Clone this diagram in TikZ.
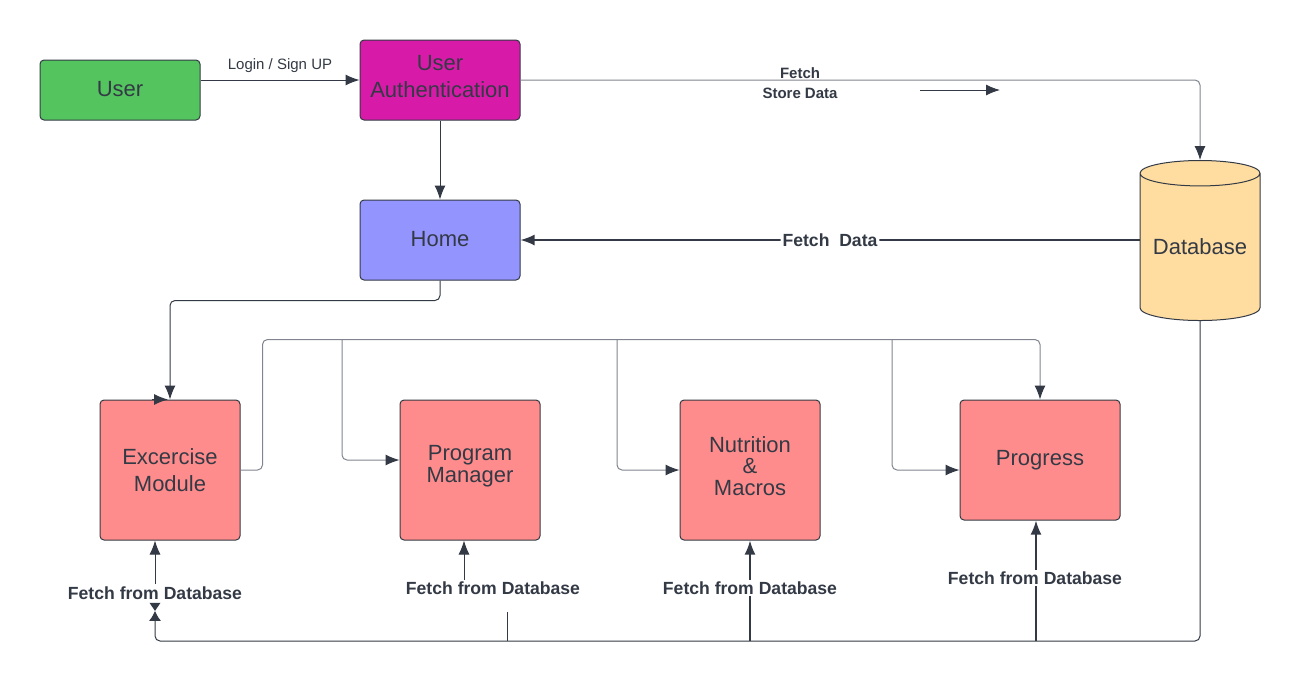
\documentclass[tikz,border=0pt]{standalone}
\usepackage{fontspec}
\setmainfont{Liberation Sans}
\usetikzlibrary{arrows.meta,positioning,calc,shapes.geometric}
\definecolor{userGreen}{HTML}{54C45E}
\definecolor{authPink}{HTML}{D81AA8}
\definecolor{homeBlue}{HTML}{9494FF}
\definecolor{dbYellow}{HTML}{FFDDA0}
\definecolor{modRed}{HTML}{FF8C8C}
\definecolor{inkGray}{HTML}{333A45}
\definecolor{wireGray}{HTML}{7F848E}

\begin{document}
\begin{tikzpicture}[x=0.5pt,y=-0.5pt,font=\fontsize{11}{13.5}\selectfont,
  box/.style={draw=inkGray,line width=0.5pt,rounded corners=2pt,text=inkGray,align=center,inner sep=0pt},
  wire/.style={inkGray,line width=0.5pt,rounded corners=2.5pt,-{Latex[length=7pt,width=5.5pt]}},
  gwire/.style={wire,wireGray,-{Latex[length=7pt,width=5.5pt,color=inkGray]}},
  lbl/.style={font=\fontsize{8.8}{10}\selectfont\bfseries,text=inkGray,fill=white,inner sep=1pt}]
\useasboundingbox (0,0) rectangle (1300,682);

% boxes
\node[box,fill=userGreen,minimum width=80pt,minimum height=30pt] (user) at (120,90) {\raisebox{1.5pt}{User}};
\node[box,fill=authPink,minimum width=80pt,minimum height=40pt] (auth) at (440,80) {User\\Authentication\\[-10pt]\mbox{}};
\node[box,fill=homeBlue,minimum width=80pt,minimum height=40pt] (home) at (440,240) {\raisebox{1.5pt}{Home}};
\node[cylinder,shape border rotate=90,aspect=0.27,draw=inkGray,line width=0.5pt,fill=dbYellow,
  text=inkGray,minimum width=60pt,minimum height=80pt,inner sep=0pt,anchor=north] (db) at (1200,160) {\raisebox{-2pt}{Database}};
\node[box,fill=modRed,minimum width=70pt,minimum height=70pt] (excer) at (170,470) {Excercise\\Module};
\node[box,fill=modRed,minimum width=70pt,minimum height=70pt,font=\fontsize{11}{9}\selectfont] (prog) at (470,470) {Program\\Manager\\[-3pt]\mbox{}};
\node[box,fill=modRed,minimum width=70pt,minimum height=70pt,font=\fontsize{11}{10.8}\selectfont] (nutri) at (750,470) {Nutrition\\\&\\Macros\\[-6.8pt]\mbox{}};
\node[box,fill=modRed,minimum width=80pt,minimum height=60pt] (progress) at (1040,460) {Progress};

% top flow
\draw[wire] (user.east |- auth.west) -- (auth.west)
  node[midway,above=0pt,font=\fontsize{7.5}{9}\selectfont,text=inkGray] {Login / Sign UP};
\draw[gwire] (auth.east) -| (db.north);
\node[font=\fontsize{7.5}{9}\selectfont\bfseries,text=inkGray] (fetchLbl) at (800,73) {Fetch};
\node[font=\fontsize{7.5}{9}\selectfont\bfseries,text=inkGray] (storeLbl) at (800,93) {Store Data};
\coordinate (sArrA) at (920,90);
\coordinate (sArrB) at (1000,90);
\draw[wire] (sArrA) -- (sArrB);
\draw[wire] (auth.south) -- (home.north);
\draw[wire,line width=0.8pt] (db.west |- home.east) -- (home.east) node[lbl,pos=0.5] {Fetch\ \ Data};
\draw[wire] (home.south) -- ++(0,20) -| (excer.north);
\draw[wire] ($(excer.north)+(-18,0)$) -- ($(excer.north)+(-2,0)$);

% module bus
\draw[gwire] (excer.east) -- ++(22,0) |- ($(progress.north)+(0,-60)$) -- (progress.north);
\coordinate (busA) at (342,340);
\coordinate (busB) at (617,340);
\coordinate (busC) at (892,340);
\draw[gwire] (busA) |- ($(prog.west)+(0,-10)$);
\draw[gwire] (busB) |- (nutri.west);
\draw[gwire] (busC) |- ($(progress.west)+(0,10)$);

% fetch from database
\coordinate (retY) at (0,641);
\node[lbl] (exLbl) at (155,593) {Fetch from Database};
\draw[wire] (exLbl.north) -- (exLbl.north |- excer.south);
\coordinate (exTip) at ($(exLbl.south)+(0,9)$);
\draw[inkGray,line width=0.5pt,rounded corners=2.5pt,-{Latex[length=5pt,width=6pt]}]
  (db.south) |- (exLbl.south |- retY) -- (exTip);
\fill[inkGray] ($(exTip)+(-5.5,-8)$) -- ($(exTip)+(5.5,-8)$) -- (exTip) -- cycle;
\draw[wire] ($(prog.south)+(-6,42)$) -- ($(prog.south)+(-6,0)$);
\node[lbl] (pmLbl) at (493,588) {Fetch from Database};
\coordinate (pmFoot) at (507,641);
\draw[inkGray,line width=0.5pt] (pmFoot) -- ++(0,-29);
\draw[wire,line width=0.9pt] (nutri.south |- retY) -- (nutri.south);
\node[lbl] (nmLbl) at (750,588) {Fetch from Database};
\draw[wire,line width=0.9pt] ($(progress.south |- retY)+(-4,0)$) -- ($(progress.south)+(-4,0)$);
\node[lbl] (prLbl) at (1035,578) {Fetch from Database};
\end{tikzpicture}
\end{document}
